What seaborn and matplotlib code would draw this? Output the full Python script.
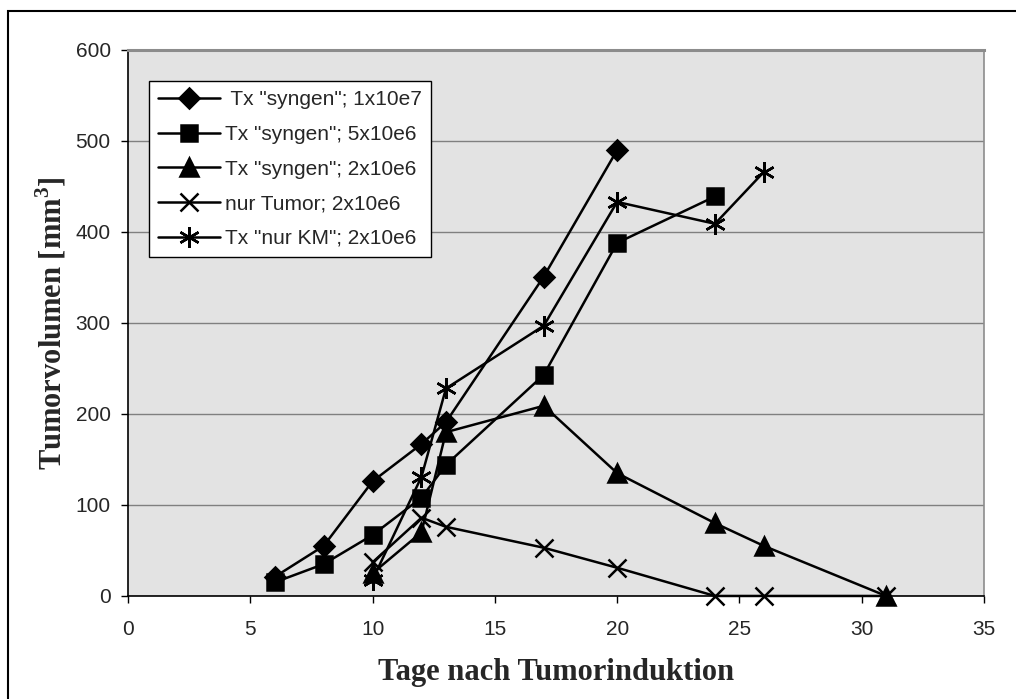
#Tumorvolumen nach Tumorinduktion - line chart with markers
import pandas as pd
import numpy as np
import matplotlib
matplotlib.use("Agg")
import matplotlib.pyplot as plt
import seaborn as sns
from matplotlib.patches import Rectangle

#Data
tage_1x10e7 = [6, 8, 10, 12, 13, 17, 20]
vol_1x10e7 = [21, 55, 126, 167, 191, 351, 490]

tage_5x10e6 = [6, 8, 10, 12, 13, 17, 20, 24]
vol_5x10e6 = [15, 35, 67, 108, 144, 243, 388, 439]

tage_2x10e6 = [10, 12, 13, 17, 20, 24, 26, 31]
vol_2x10e6 = [25, 70, 180, 209, 135, 80, 55, 0]

tage_tumor = [10, 12, 13, 17, 20, 24, 26, 31]
vol_tumor = [37, 86, 76, 53, 31, 0, 0, 0]

tage_km = [10, 12, 13, 17, 20, 24, 26]
vol_km = [18, 131, 228, 297, 433, 409, 466]

labels = [' Tx "syngen"; 1x10e7', 'Tx "syngen"; 5x10e6', 'Tx "syngen"; 2x10e6',
          'nur Tumor; 2x10e6', 'Tx "nur KM"; 2x10e6']

sns.set_style("white")
plt.rcParams['font.family'] = ['Liberation Sans', 'DejaVu Sans']
plt.rcParams['mathtext.fontset'] = 'custom'
plt.rcParams['mathtext.rm'] = 'Liberation Serif:bold'
plt.rcParams['mathtext.bf'] = 'Liberation Serif:bold'

fig = plt.figure(figsize=(10.16, 6.99), dpi=100)
ax = fig.add_axes([0.126, 0.1474, 0.8425, 0.7811])
ax.set_facecolor('#e3e3e3')

series = [
    (tage_1x10e7, vol_1x10e7, 'D', 10),
    (tage_5x10e6, vol_5x10e6, 's', 12),
    (tage_2x10e6, vol_2x10e6, '^', 13),
    (tage_tumor, vol_tumor, 'x', 13),
    (tage_km, vol_km, (6, 2, 0), 15),
]
for (x, y, m, ms), lab in zip(series, labels):
    sns.lineplot(x=x, y=y, ax=ax, color='black', marker=m, markersize=ms,
                 markeredgewidth=1.8, markeredgecolor='black', linewidth=1.8,
                 label=lab, clip_on=False, zorder=3)

ax.set_xlim(0, 35)
ax.set_ylim(0, 600)
ax.set_xticks(range(0, 36, 5))
ax.set_yticks(range(0, 601, 100))
ax.yaxis.grid(True, color='#808080', linewidth=1)
ax.set_axisbelow(True)

for side in ['left', 'bottom']:
    ax.spines[side].set_color('black')
    ax.spines[side].set_linewidth(1.2)
ax.spines['top'].set_color('#8c8c8c')
ax.spines['top'].set_linewidth(2.2)
ax.spines['right'].set_color('#8c8c8c')
ax.spines['right'].set_linewidth(1.2)

ax.tick_params(axis='both', direction='out', length=5, width=1, color='black',
               labelsize=15, bottom=True, left=True)
ax.tick_params(axis='y', pad=7.5)
ax.tick_params(axis='x', pad=12)

ax.set_xlabel('Tage nach Tumorinduktion', fontsize=22, fontweight='bold',
              family='Liberation Serif', labelpad=14)
ax.set_ylabel(r'Tumorvolumen [mm$^\mathbf{3}$]', fontsize=22, fontweight='bold',
              family='Liberation Serif', labelpad=5)

leg = ax.legend(loc='upper left', bbox_to_anchor=(0.024, 0.943), borderaxespad=0,
                fontsize=15, frameon=True, fancybox=False, handlelength=3.0,
                handletextpad=0.2, labelspacing=0.75, borderpad=0.45)
leg.get_frame().set_edgecolor('black')
leg.get_frame().set_linewidth(1)
leg.get_frame().set_facecolor('white')
leg.get_frame().set_alpha(1)

#outer frame of the figure
fig.patches.append(Rectangle((8 / 1016, -0.01), 1.02, 1 - 11 / 699 + 0.01,
                             transform=fig.transFigure, fill=False,
                             edgecolor='black', linewidth=1.5))

fig.savefig('out.png', dpi=100)
